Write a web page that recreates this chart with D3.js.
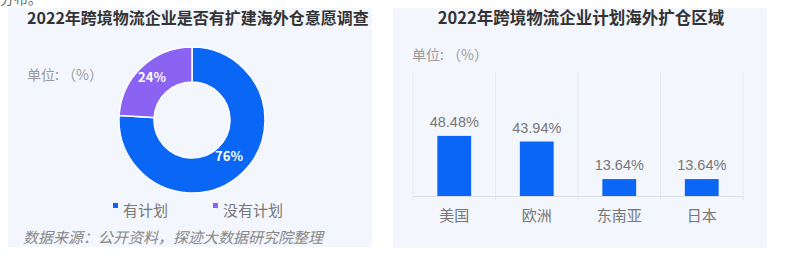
<!DOCTYPE html>
<html>
<head>
<meta charset="utf-8">
<script src="https://cdn.jsdelivr.net/npm/d3@7"></script>
<style>
  body { margin: 0; background: #fff; }
  svg { display: block; font-family: "Noto Sans CJK SC", "Noto Sans", sans-serif; }
</style>
</head>
<body>
<svg id="chart" width="785" height="260"></svg>
<script>
// donut data
var planLabels = ['有计划', '没有计划'];
var planValues = [76, 24];
var planColors = ['#0a66f5', '#8b63f2'];

// bar data
var regions = ['美国', '欧洲', '东南亚', '日本'];
var regionValues = [48.48, 43.94, 13.64, 13.64];

var svg = d3.select('#chart');

// panels
svg.append('rect').attr('x', 8).attr('y', 8).attr('width', 364).attr('height', 239).attr('fill', '#f3f6fd');
svg.append('rect').attr('x', 393).attr('y', 8).attr('width', 374).attr('height', 240).attr('fill', '#f3f6fd');

// cut-off text line from the page above
svg.append('text').attr('x', 0).attr('y', 4).attr('font-size', 14).attr('fill', '#666').text('分布。');

// ---- left: donut ----
svg.append('text')
  .attr('x', 198).attr('y', 24)
  .attr('text-anchor', 'middle')
  .attr('font-size', 16).attr('font-weight', 'bold').attr('fill', '#333')
  .text('2022年跨境物流企业是否有扩建海外仓意愿调查');

svg.append('text')
  .attr('x', 27).attr('y', 80)
  .attr('font-size', 14).attr('fill', '#999')
  .text('单位:  （%）');

var pie = d3.pie().sort(null).value(function(d){ return d; });
var arc = d3.arc().innerRadius(38).outerRadius(73);

var donut = svg.append('g').attr('transform', 'translate(192,120)');
var slices = pie(planValues);

donut.selectAll('path')
  .data(slices)
  .enter()
  .append('path')
  .attr('d', arc)
  .attr('fill', function(d, i){ return planColors[i]; })
  .attr('stroke', '#fff')
  .attr('stroke-width', 1.5);

var labelPos = [[37, 40], [-40, -39]];
donut.selectAll('text.pct')
  .data(slices)
  .enter()
  .append('text')
  .attr('class', 'pct')
  .attr('x', function(d, i){ return labelPos[i][0]; })
  .attr('y', function(d, i){ return labelPos[i][1] + 1; })
  .attr('text-anchor', 'middle')
  .attr('font-size', 13).attr('font-weight', 'bold').attr('fill', '#fff')
  .text(function(d){ return d.data + '%'; });

var legend = svg.append('g');
var legendX = [113, 213];
planLabels.forEach(function(name, i){
  legend.append('rect')
    .attr('x', legendX[i]).attr('y', 203)
    .attr('width', 5).attr('height', 5)
    .attr('fill', planColors[i]);
  legend.append('text')
    .attr('x', legendX[i] + 10).attr('y', 216)
    .attr('font-size', 15).attr('fill', '#777')
    .text(name);
});

svg.append('text')
  .attr('x', 23).attr('y', 243)
  .attr('font-size', 15).attr('font-style', 'italic').attr('fill', '#888')
  .text('数据来源：公开资料，探迹大数据研究院整理');

// ---- right: bars ----
svg.append('text')
  .attr('x', 581).attr('y', 24)
  .attr('text-anchor', 'middle')
  .attr('font-size', 16.5).attr('font-weight', 'bold').attr('fill', '#333')
  .text('2022年跨境物流企业计划海外扩仓区域');

svg.append('text')
  .attr('x', 412).attr('y', 60)
  .attr('font-size', 14).attr('fill', '#999')
  .text('单位:  （%）');

var x = d3.scaleBand().domain(regions).range([413, 743]);
var y = d3.scaleLinear().domain([0, 100]).range([196, 72]);
var barW = x.bandwidth() * 0.41;

// vertical grid lines at band edges
var edges = regions.map(function(r){ return x(r); }).concat([x.range()[1]]);
svg.append('g').selectAll('line')
  .data(edges)
  .enter()
  .append('line')
  .attr('x1', function(d){ return d; }).attr('x2', function(d){ return d; })
  .attr('y1', 72).attr('y2', 200)
  .attr('stroke', '#e6e9f0').attr('stroke-width', 1);

var xAxis = svg.append('g')
  .attr('transform', 'translate(0,196)')
  .call(d3.axisBottom(x).tickSize(0).tickPadding(14));
xAxis.select('.domain').attr('stroke', '#dde0e6');
xAxis.selectAll('text')
  .attr('font-size', 15).attr('fill', '#777')
  .attr('font-family', '"Noto Sans CJK SC", sans-serif');

svg.append('g').selectAll('rect')
  .data(regionValues)
  .enter()
  .append('rect')
  .attr('x', function(d, i){ return x(regions[i]) + (x.bandwidth() - barW) / 2; })
  .attr('y', function(d){ return y(d); })
  .attr('width', barW)
  .attr('height', function(d){ return y(0) - y(d); })
  .attr('fill', '#0a66f5');

svg.append('g').selectAll('text')
  .data(regionValues)
  .enter()
  .append('text')
  .attr('x', function(d, i){ return x(regions[i]) + x.bandwidth() / 2; })
  .attr('y', function(d){ return y(d) - 9; })
  .attr('text-anchor', 'middle')
  .attr('font-size', 14.5).attr('fill', '#777')
  .attr('font-family', '"Liberation Sans", Arial, sans-serif')
  .text(function(d){ return d.toFixed(2) + '%'; });
</script>
</body>
</html>
